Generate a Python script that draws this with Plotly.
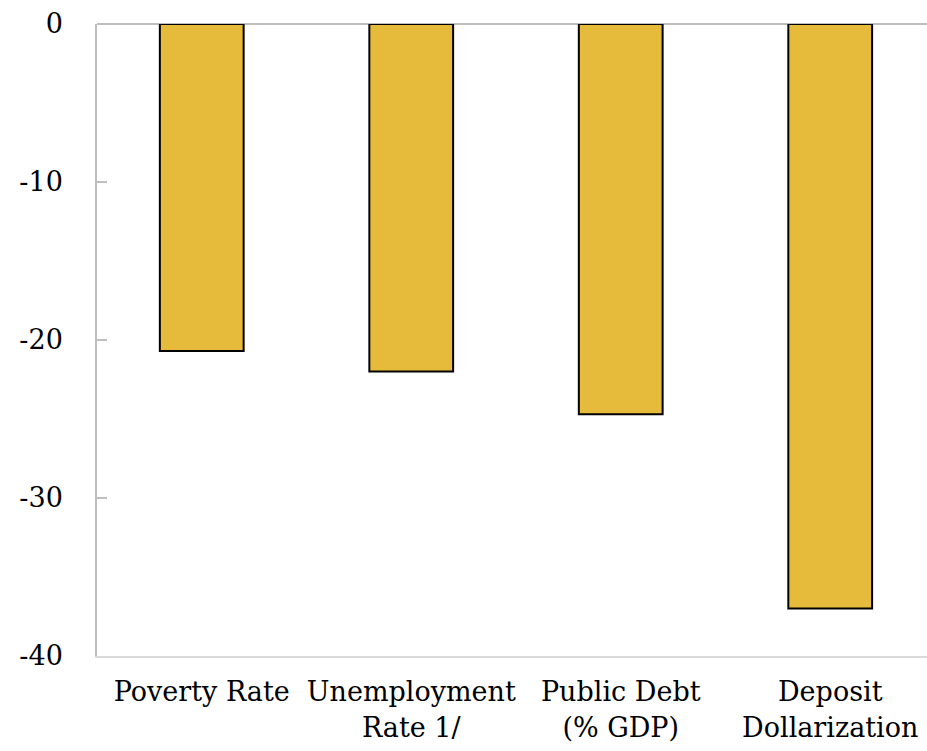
import plotly.graph_objects as go

categories = ["Poverty Rate", "Unemployment<br>Rate 1/", "Public Debt<br>(% GDP)", "Deposit<br>Dollarization"]
values = [-20.7, -22.0, -24.7, -37.0]
y_ticks = [0, -10, -20, -30, -40]

fig = go.Figure(
    go.Bar(
        x=categories,
        y=values,
        width=0.4,
        marker=dict(color="#E6BA3B", line=dict(color="#000000", width=2)),
    )
)

family = "DejaVu Serif"
font = dict(family=family, size=27, color="#000000")

fig.update_layout(
    width=927,
    height=751,
    margin=dict(l=97, r=0, t=24, b=95),
    paper_bgcolor="white",
    plot_bgcolor="white",
    showlegend=False,
    font=font,
)
fig.update_xaxes(
    range=[-0.5, 3.462],
    showline=True,
    linecolor="#d9d9d9",
    linewidth=2,
    ticks="",
    showgrid=False,
    zeroline=False,
    tickfont=font,
    ticklabelstandoff=11,
)
fig.update_yaxes(
    range=[-40, 0],
    tickvals=y_ticks,
    ticktext=[str(v) for v in y_ticks],
    showline=True,
    linecolor="#bfbfbf",
    linewidth=1.5,
    ticks="inside",
    ticklen=10,
    tickcolor="#bfbfbf",
    tickwidth=1.5,
    showgrid=False,
    zeroline=True,
    zerolinecolor="#bfbfbf",
    zerolinewidth=2,
    ticklabelstandoff=27,
    tickfont=font,
)

fig.write_html("out.html")
